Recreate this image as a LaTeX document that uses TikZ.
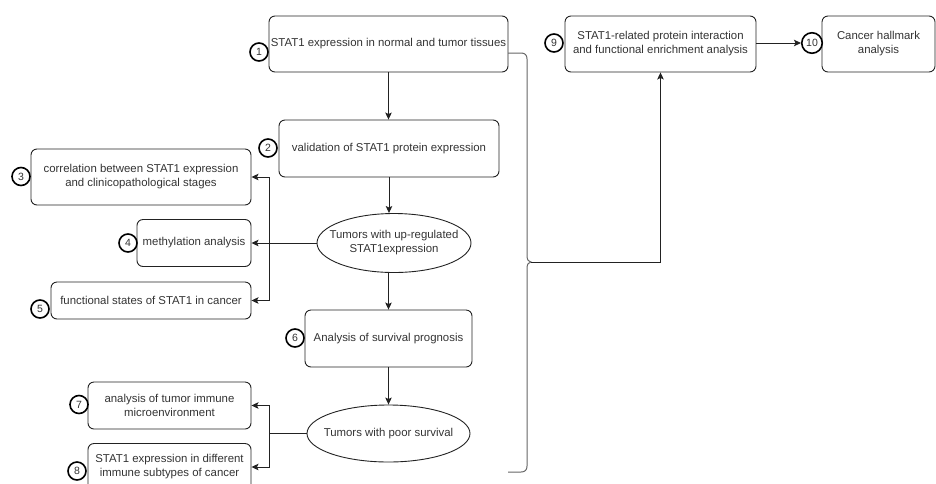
\documentclass[tikz,border=0pt]{standalone}
\usepackage{fontspec}
\setmainfont{Liberation Sans}
\usetikzlibrary{arrows.meta,shapes.geometric}
\definecolor{txt}{HTML}{333333}
\definecolor{ln}{HTML}{222222}
\definecolor{brc}{HTML}{666666}
\begin{document}
\begin{tikzpicture}[x=1pt,y=-1pt,
  box/.style={draw=ln, line width=0.9pt, rounded corners=6pt, align=center, inner sep=0pt,
    font=\fontsize{11.4}{14}\selectfont, text=txt},
  ell/.style={draw=ln, line width=0.9pt, ellipse, inner sep=0pt},
  elltext/.style={align=center, inner sep=0pt, font=\fontsize{11.4}{14}\selectfont, text=txt},
  num/.style={circle, draw=black, line width=1.6pt, fill=white, inner sep=0pt,
    minimum size=18pt, font=\fontsize{10.5}{11}\selectfont, text=txt},
  arr/.style={-{Stealth[length=7pt,width=6.5pt,inset=1.5pt]}, line width=0.9pt, draw=ln},
  con/.style={line width=0.9pt, draw=ln},
  bracestyle/.style={line width=1pt, draw=brc},
]
\useasboundingbox (0,0) rectangle (936,483);

% boxes
\node[box, minimum width=239pt, minimum height=56pt] (b1) at (388.5,44) {STAT1 expression in normal and tumor tissues};
\node[box, minimum width=220pt, minimum height=57pt] (b2) at (389,148.5) {validation of STAT1 protein expression};
\node[box, minimum width=220pt, minimum height=56pt] (b3) at (141,177) {correlation between STAT1 expression\\and clinicopathological stages};
\node[box, minimum width=114pt, minimum height=47pt] (b4) at (194,243) {methylation analysis};
\node[ell, minimum width=154pt, minimum height=59pt] (e1) at (394,243) {};
\node[elltext] (e1t) at (e1.center) {Tumors with up-regulated\\STAT1expression};
\node[box, minimum width=200pt, minimum height=37pt] (b5) at (151,300.5) {functional states of STAT1 in cancer};
\node[box, minimum width=167pt, minimum height=57pt] (b6) at (388.5,338.5) {Analysis of survival prognosis};
\node[box, minimum width=163pt, minimum height=47pt] (b7) at (169.5,405.5) {analysis of tumor immune\\microenvironment};
\node[ell, minimum width=163pt, minimum height=57pt] (e2) at (388.5,433.5) {};
\node[elltext] (e2t) at (e2.center) {Tumors with poor survival};
\node[box, minimum width=163pt, minimum height=47pt] (b8) at (169.5,467) {STAT1 expression in different\\immune subtypes of cancer};
\node[box, minimum width=191pt, minimum height=56pt] (b9) at (660.5,44) {STAT1-related protein interaction\\and functional enrichment analysis};
\node[box, minimum width=113pt, minimum height=56pt] (b10) at (878.5,44) {Cancer hallmark\\analysis};

% number circles
\node[num] (c1) at (259,52) {1};
\node[num] (c2) at (268,148) {2};
\node[num] (c3) at (21,176.5) {3};
\node[num] (c4) at (128,243) {4};
\node[num] (c5) at (40,309) {5};
\node[num] (c6) at (295,338) {6};
\node[num] (c7) at (79,404.5) {7};
\node[num] (c8) at (77,471) {8};
\node[num] (c9) at (554,43) {9};
\node[num, minimum size=20.5pt] (c10) at (812,43) {10};

% main vertical flow
\draw[arr] (b1.south) -- (b1.south |- b2.north);
\draw[arr] (b2.south) -- (b2.south |- e1.north);
\draw[arr] (b6.north |- e1.south) -- (b6.north);
\draw[arr] (b6.south) -- (b6.south |- e2.north);

% branches from ellipse 1
\coordinate (j1) at (269,243);
\draw[arr] (e1.west) -- (b4.east);
\draw[arr] (j1) |- (b3.east);
\draw[arr] (j1) |- (b5.east);

% branches from ellipse 2
\coordinate (j2) at (269,433.5);
\draw[con] (e2.west) -- (j2);
\draw[arr] (j2) |- (b7.east);
\draw[arr] (j2) |- (b8.east);

% brace
\coordinate (bp) at (531,262);
\draw[bracestyle] (508,53) -- (521,53) .. controls (525,53) and (527,55) .. (527,59)
  -- (527,256) .. controls (527,260) and (529,262) .. (bp)
  .. controls (529,262) and (527,264) .. (527,268)
  -- (527,466) .. controls (527,470) and (525,472) .. (521,472) -- (508,472);
\draw[arr] (bp) -| (b9.south);

% 9 -> 10
\draw[arr] (c10.west -| b9.east) -- (c10.west);
\end{tikzpicture}
\end{document}
